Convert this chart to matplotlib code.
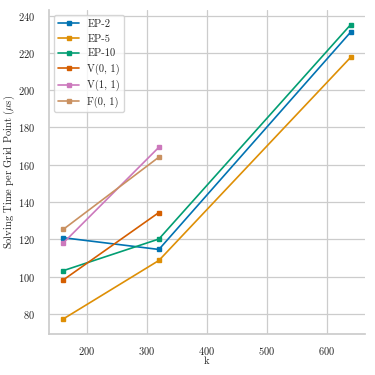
import matplotlib
matplotlib.use("Agg")
import matplotlib.pyplot as plt
import seaborn as sns

k_vals = [160, 320, 640]
ep2 = [120.9, 114.6, 231.0]
ep5 = [77.3, 108.7, 217.5]
ep10 = [103.2, 120.2, 235.0]
k_short = [160, 320]
v01 = [98.2, 134.4]
v11 = [118.0, 169.4]
f01 = [125.3, 164.1]

labels = ["EP-2", "EP-5", "EP-10", "V(0, 1)", "V(1, 1)", "F(0, 1)"]

sns.set_theme(style="whitegrid")
plt.rcParams['font.family'] = ['cmr10', 'DejaVu Serif']
plt.rcParams['axes.formatter.use_mathtext'] = True
plt.rcParams['mathtext.fontset'] = 'cm'

pal = sns.color_palette("colorblind")
colors = [pal[0], pal[1], pal[2], pal[3], pal[4], pal[5]]

fig, ax = plt.subplots(figsize=(3.75, 3.75), dpi=100)
series = [(k_vals, ep2), (k_vals, ep5), (k_vals, ep10), (k_short, v01), (k_short, v11), (k_short, f01)]
for (x, y), lab, c in zip(series, labels, colors):
    ax.plot(x, y, marker='s', markersize=3.5, linewidth=1.2, color=c, label=lab)

ax.set_xlabel("k", fontsize=7.5, labelpad=0)
ax.set_ylabel(r"Solving Time per Grid Point ($\mu$s)", fontsize=7.5)
ax.yaxis.set_label_coords(-0.10, 0.5)
ax.tick_params(axis='y', labelsize=7.5, pad=4)
ax.tick_params(axis='x', labelsize=7.5, pad=2)
ax.grid(linewidth=0.9)
ax.set_xticks([200, 300, 400, 500, 600])
ax.set_yticks([80, 100, 120, 140, 160, 180, 200, 220, 240])
sns.despine(ax=ax)
leg = ax.legend(fontsize=7.5, loc='upper left', frameon=True, handlelength=2.0)
fig.subplots_adjust(left=0.13, right=0.973, top=0.973, bottom=0.11)
fig.savefig("out.png", dpi=100)
